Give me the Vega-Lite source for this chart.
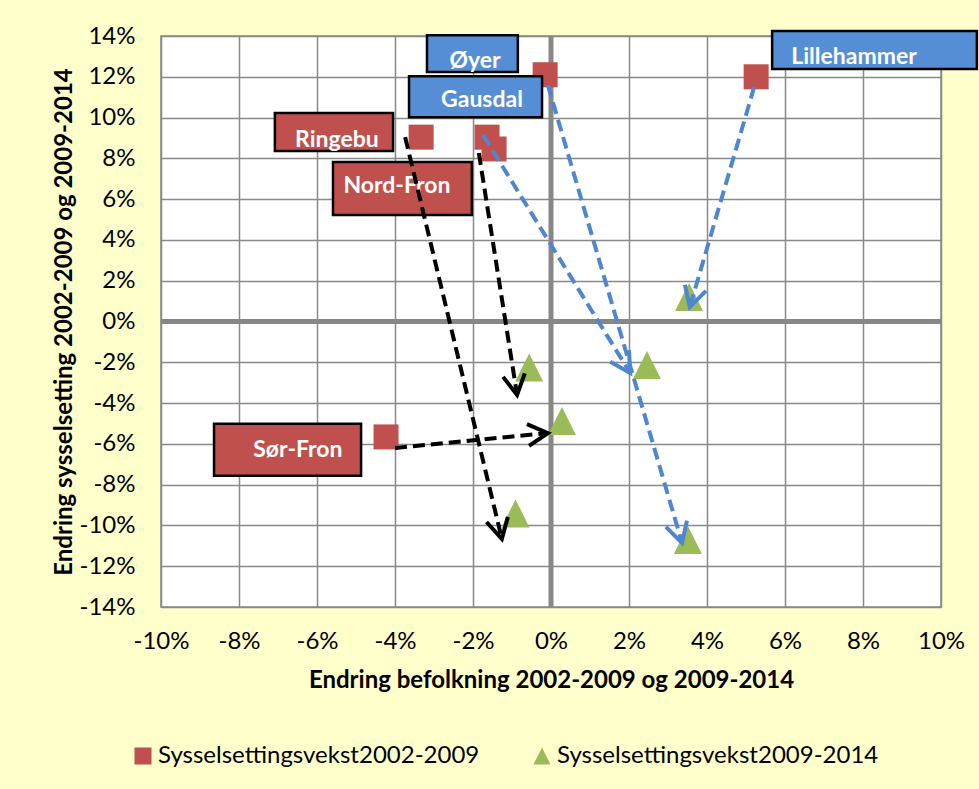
{
  "$schema": "https://vega.github.io/schema/vega-lite/v6.json",
  "width": 780,
  "height": 571,
  "autosize": {"type": "none"},
  "padding": {"left": 161, "top": 36, "right": 38, "bottom": 182},
  "background": "#FFFFCC",
  "config": {
    "font": "Lato",
    "view": {"fill": "white", "stroke": "#898989", "strokeWidth": 1.5},
    "axis": {
      "grid": true,
      "gridColor": "#898989",
      "gridWidth": 1.5,
      "gridOpacity": 1,
      "ticks": false,
      "tickSize": 0,
      "domain": false,
      "labelFlush": false,
      "labelFont": "Lato",
      "labelFontSize": 24,
      "labelColor": "black",
      "titleFont": "Lato",
      "titleFontSize": 24,
      "titleFontWeight": "bold",
      "titleColor": "black",
      "labelExpr": "datum.value + '%'"
    }
  },
  "datasets": {
    "punkter": [
      {"kommune": "Øyer", "serie": "Sysselsettingsvekst2002-2009", "bef": -0.15, "syss": 12.1},
      {"kommune": "Lillehammer", "serie": "Sysselsettingsvekst2002-2009", "bef": 5.26, "syss": 12.0},
      {"kommune": "Ringebu", "serie": "Sysselsettingsvekst2002-2009", "bef": -3.33, "syss": 9.04},
      {"kommune": "Gausdal", "serie": "Sysselsettingsvekst2002-2009", "bef": -1.64, "syss": 9.04},
      {"kommune": "Nord-Fron", "serie": "Sysselsettingsvekst2002-2009", "bef": -1.46, "syss": 8.46},
      {"kommune": "Sør-Fron", "serie": "Sysselsettingsvekst2002-2009", "bef": -4.23, "syss": -5.66},
      {"kommune": "Øyer", "serie": "Sysselsettingsvekst2009-2014", "bef": 3.51, "syss": -10.71},
      {"kommune": "Lillehammer", "serie": "Sysselsettingsvekst2009-2014", "bef": 3.54, "syss": 1.2},
      {"kommune": "Gausdal", "serie": "Sysselsettingsvekst2009-2014", "bef": 2.46, "syss": -2.13},
      {"kommune": "Nord-Fron", "serie": "Sysselsettingsvekst2009-2014", "bef": -0.56, "syss": -2.25},
      {"kommune": "Sør-Fron", "serie": "Sysselsettingsvekst2009-2014", "bef": 0.28, "syss": -4.88},
      {"kommune": "Ringebu", "serie": "Sysselsettingsvekst2009-2014", "bef": -0.91, "syss": -9.41}
    ],
    "piler": [
      {"kommune": "Øyer", "gruppe": "blå", "x1": -0.08, "y1": 11.59, "x2": 3.36, "y2": -10.86},
      {"kommune": "Lillehammer", "gruppe": "blå", "x1": 5.21, "y1": 11.5, "x2": 3.56, "y2": 0.71},
      {"kommune": "Gausdal", "gruppe": "blå", "x1": -1.74, "y1": 9.14, "x2": 2.03, "y2": -2.52},
      {"kommune": "Ringebu", "gruppe": "svart", "x1": -3.74, "y1": 9.04, "x2": -1.26, "y2": -10.66},
      {"kommune": "Nord-Fron", "gruppe": "svart", "x1": -1.85, "y1": 8.26, "x2": -0.87, "y2": -3.6},
      {"kommune": "Sør-Fron", "gruppe": "svart", "x1": -4.0, "y1": -6.2, "x2": -0.08, "y2": -5.47}
    ],
    "etiketter": [
      {"kommune": "Øyer", "gruppe": "blå", "bx1": -3.18, "bx2": -0.85, "by1": 14.04, "by2": 12.23, "tx": -1.95, "ty": 12.77},
      {"kommune": "Gausdal", "gruppe": "blå", "bx1": -3.64, "bx2": -0.23, "by1": 12.03, "by2": 10.02, "tx": -1.77, "ty": 10.86},
      {"kommune": "Lillehammer", "gruppe": "blå", "bx1": 5.67, "bx2": 10.92, "by1": 14.24, "by2": 12.38, "tx": 7.77, "ty": 12.97},
      {"kommune": "Ringebu", "gruppe": "rød", "bx1": -7.08, "bx2": -4.05, "by1": 10.22, "by2": 8.36, "tx": -5.49, "ty": 8.9},
      {"kommune": "Nord-Fron", "gruppe": "rød", "bx1": -5.59, "bx2": -2.03, "by1": 7.82, "by2": 5.22, "tx": -3.95, "ty": 6.64},
      {"kommune": "Sør-Fron", "gruppe": "rød", "bx1": -8.64, "bx2": -4.87, "by1": -5.02, "by2": -7.57, "tx": -6.49, "ty": -6.3}
    ],
    "null": [{"v": 0}]
  },
  "layer": [
    {
      "data": {"name": "null"},
      "mark": {"type": "rule", "color": "#878787", "strokeWidth": 5},
      "encoding": {
        "x": {
          "field": "v", "type": "quantitative",
          "scale": {"domain": [-10, 10], "nice": false, "zero": false},
          "axis": {"values": [-10, -8, -6, -4, -2, 0, 2, 4, 6, 8, 10], "labelPadding": 22, "titlePadding": 15},
          "title": "Endring befolkning 2002-2009 og 2009-2014"
        }
      }
    },
    {
      "data": {"name": "null"},
      "mark": {"type": "rule", "color": "#878787", "strokeWidth": 5},
      "encoding": {
        "y": {
          "field": "v", "type": "quantitative",
          "scale": {"domain": [-14, 14], "nice": false, "zero": false},
          "axis": {"values": [-14, -12, -10, -8, -6, -4, -2, 0, 2, 4, 6, 8, 10, 12, 14], "labelPadding": 26, "titlePadding": 3},
          "title": "Endring sysselsetting 2002-2009 og 2009-2014"
        }
      }
    },
    {
      "data": {"name": "punkter"},
      "mark": {"type": "point", "filled": true, "opacity": 1, "strokeWidth": 0},
      "encoding": {
        "x": {"field": "bef", "type": "quantitative", "scale": {"domain": [-10, 10], "nice": false, "zero": false}, "title": "Endring befolkning 2002-2009 og 2009-2014"},
        "y": {"field": "syss", "type": "quantitative", "scale": {"domain": [-14, 14], "nice": false, "zero": false}, "title": "Endring sysselsetting 2002-2009 og 2009-2014"},
        "color": {
          "field": "serie", "type": "nominal",
          "scale": {"domain": ["Sysselsettingsvekst2002-2009", "Sysselsettingsvekst2009-2014"], "range": ["#C0504D", "#9BBB59"]},
          "legend": {"title": null, "orient": "none", "legendX": -30, "legendY": 708, "direction": "horizontal", "columnPadding": 50, "labelFontSize": 24, "labelColor": "black", "labelFont": "Lato", "labelLimit": 0, "symbolSize": 290, "labelOffset": 3, "symbolStrokeWidth": 0}
        },
        "shape": {
          "field": "serie", "type": "nominal",
          "scale": {"domain": ["Sysselsettingsvekst2002-2009", "Sysselsettingsvekst2009-2014"], "range": ["M -1 -1 L 1 -1 L 1 1 L -1 1 Z", "M 0 -1 L 1 1 L -1 1 Z"]},
          "legend": {"title": null, "orient": "none", "legendX": -30, "legendY": 708, "direction": "horizontal", "columnPadding": 50, "labelFontSize": 24, "labelColor": "black", "labelFont": "Lato", "labelLimit": 0, "symbolSize": 290, "labelOffset": 3, "symbolStrokeWidth": 0}
        },
        "size": {"condition": {"test": "datum.serie === 'Sysselsettingsvekst2009-2014'", "value": 784}, "value": 625}
      }
    },
    {
      "data": {"name": "etiketter"},
      "mark": {"type": "rect", "stroke": "black", "strokeWidth": 2.5},
      "encoding": {
        "x": {"field": "bx1", "type": "quantitative", "scale": {"domain": [-10, 10], "nice": false, "zero": false}, "title": "Endring befolkning 2002-2009 og 2009-2014"},
        "x2": {"field": "bx2"},
        "y": {"field": "by1", "type": "quantitative", "scale": {"domain": [-14, 14], "nice": false, "zero": false}, "title": "Endring sysselsetting 2002-2009 og 2009-2014"},
        "y2": {"field": "by2"},
        "fill": {"condition": {"test": "datum.gruppe === 'blå'", "value": "#558ED5"}, "value": "#C0504D"}
      }
    },
    {
      "data": {"name": "etiketter"},
      "mark": {"type": "text", "color": "white", "fontWeight": "bold", "fontSize": 23, "font": "Lato", "align": "center", "baseline": "middle"},
      "encoding": {
        "x": {"field": "tx", "type": "quantitative", "scale": {"domain": [-10, 10], "nice": false, "zero": false}, "title": "Endring befolkning 2002-2009 og 2009-2014"},
        "y": {"field": "ty", "type": "quantitative", "scale": {"domain": [-14, 14], "nice": false, "zero": false}, "title": "Endring sysselsetting 2002-2009 og 2009-2014"},
        "text": {"field": "kommune"}
      }
    },
    {
      "data": {"name": "piler"},
      "mark": {"type": "rule", "strokeWidth": 4, "strokeDash": [12, 6]},
      "encoding": {
        "x": {"field": "x1", "type": "quantitative", "scale": {"domain": [-10, 10], "nice": false, "zero": false}, "title": "Endring befolkning 2002-2009 og 2009-2014"},
        "y": {"field": "y1", "type": "quantitative", "scale": {"domain": [-14, 14], "nice": false, "zero": false}, "title": "Endring sysselsetting 2002-2009 og 2009-2014"},
        "x2": {"field": "x2"},
        "y2": {"field": "y2"},
        "stroke": {"condition": {"test": "datum.gruppe === 'blå'", "value": "#4F86D0"}, "value": "black"}
      }
    },
    {
      "data": {"name": "piler"},
      "transform": [
        {"calculate": "atan2(-(datum.y2 - datum.y1) * 20.4, (datum.x2 - datum.x1) * 39) * 180 / PI", "as": "vinkel"}
      ],
      "mark": {"type": "point", "shape": "M -1 -0.55 L 0 0 L -1 0.55", "filled": false, "strokeWidth": 4, "size": 1600, "opacity": 1, "strokeJoin": "miter"},
      "encoding": {
        "x": {"field": "x2", "type": "quantitative", "scale": {"domain": [-10, 10], "nice": false, "zero": false}, "title": "Endring befolkning 2002-2009 og 2009-2014"},
        "y": {"field": "y2", "type": "quantitative", "scale": {"domain": [-14, 14], "nice": false, "zero": false}, "title": "Endring sysselsetting 2002-2009 og 2009-2014"},
        "angle": {"field": "vinkel", "type": "quantitative", "scale": null},
        "stroke": {"condition": {"test": "datum.gruppe === 'blå'", "value": "#4F86D0"}, "value": "black"}
      }
    }
  ]
}
